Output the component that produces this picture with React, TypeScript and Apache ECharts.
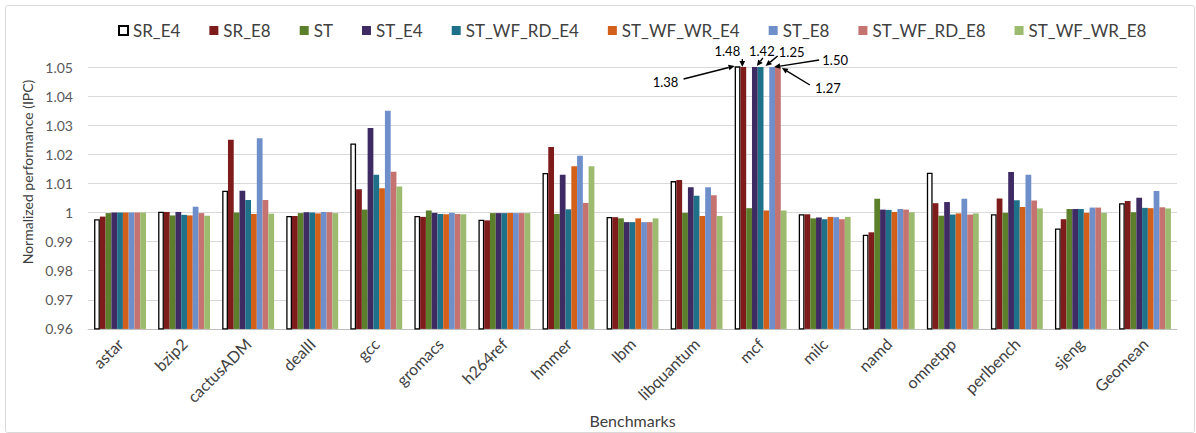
import React, { useEffect, useRef } from "react";
import * as echarts from "echarts";

const categories = ["astar", "bzip2", "cactusADM", "dealII", "gcc", "gromacs", "h264ref", "hmmer", "lbm", "libquantum", "mcf", "milc", "namd", "omnetpp", "perlbench", "sjeng", "Geomean"];

const SR_E4 = [0.9977, 1.0003, 1.0075, 0.9988, 1.0237, 0.9988, 0.9975, 1.0136, 0.9985, 1.0108, 1.38, 0.9994, 0.9924, 1.0137, 0.9994, 0.9945, 1.0032];
const SR_E8 = [0.9986, 1.0002, 1.025, 0.9988, 1.008, 0.9985, 0.9973, 1.0225, 0.9984, 1.0112, 1.48, 0.9994, 0.9932, 1.0032, 1.0048, 0.9977, 1.004];
const ST = [0.9998, 0.999, 1.0, 0.9998, 1.001, 1.0007, 0.9998, 0.9995, 0.998, 0.9999, 1.0015, 0.998, 1.0047, 0.9989, 0.9999, 1.0012, 1.0001];
const ST_E4 = [1.0, 1.0002, 1.0075, 1.0001, 1.029, 0.9999, 0.9998, 1.013, 0.9967, 1.0087, 1.42, 0.9983, 1.001, 1.0036, 1.0139, 1.0012, 1.0051];
const ST_WF_RD_E4 = [1.0, 0.9992, 1.0043, 1.0, 1.013, 0.9995, 0.9998, 1.0011, 0.9967, 1.0058, 1.25, 0.9977, 1.0009, 0.9993, 1.0042, 1.0012, 1.0016];
const ST_WF_WR_E4 = [1.0, 0.999, 0.9995, 0.9997, 1.0083, 0.9994, 0.9998, 1.0159, 0.998, 0.9988, 1.0007, 0.9985, 1.0002, 0.9997, 1.0019, 0.9999, 1.0015];
const ST_E8 = [1.0, 1.002, 1.0255, 1.0002, 1.035, 0.9999, 0.9998, 1.0195, 0.9967, 1.0087, 1.5, 0.9984, 1.0012, 1.0047, 1.013, 1.0017, 1.0074];
const ST_WF_RD_E8 = [1.0, 0.9998, 1.0043, 1.0001, 1.014, 0.9995, 0.9998, 1.0033, 0.9967, 1.0059, 1.27, 0.9977, 1.001, 0.9993, 1.0041, 1.0017, 1.0018];
const ST_WF_WR_E8 = [1.0, 0.9989, 0.9996, 0.9998, 1.0089, 0.9994, 0.9998, 1.0159, 0.998, 0.9988, 1.0007, 0.9985, 1.0001, 0.9997, 1.0014, 0.9999, 1.0014];

const seriesDefs = [
  { name: "SR_E4", data: SR_E4, color: "#ffffff", border: "#000000" },
  { name: "SR_E8", data: SR_E8, color: "#7e1c1c" },
  { name: "ST", data: ST, color: "#5b7f2b" },
  { name: "ST_E4", data: ST_E4, color: "#3f2b64" },
  { name: "ST_WF_RD_E4", data: ST_WF_RD_E4, color: "#1f7089" },
  { name: "ST_WF_WR_E4", data: ST_WF_WR_E4, color: "#d2601a" },
  { name: "ST_E8", data: ST_E8, color: "#6f8fcb" },
  { name: "ST_WF_RD_E8", data: ST_WF_RD_E8, color: "#c47370" },
  { name: "ST_WF_WR_E8", data: ST_WF_WR_E8, color: "#9dbb6f" },
];

// annotations on the clipped mcf bars: offsets (px) relative to bar top-center
const annotations = [
  { series: 0, tx: -72, ty: 15, sx: -54, sy: 12, ex: -3, ey: -1 },
  { series: 1, tx: -16, ty: -16, sx: -1, sy: -8, ex: -1, ey: 0 },
  { series: 3, tx: 7, ty: -16, sx: 8, sy: -9, ex: 2, ey: -1 },
  { series: 4, tx: 31, ty: -15, sx: 17, sy: -11, ex: 5, ey: -1 },
  { series: 6, tx: 63, ty: -7, sx: 47, sy: -7, ex: 2, ey: 0 },
  { series: 7, tx: 50, ty: 21, sx: 32, sy: 18, ex: 4, ey: 1 },
];
const annotCategory = "mcf";

const GRID = { left: 88, right: 19, top: 67, bottom: 104 };
const CAT_GAP = 0.19;

export default function App() {
  const ref = useRef<HTMLDivElement>(null);
  useEffect(() => {
    if (!ref.current) return;
    const chart = echarts.init(ref.current, null, { renderer: "svg" });
    const font = "Lato, 'Liberation Sans', sans-serif";
    chart.setOption({
      animation: false,
      textStyle: { fontFamily: font },
      legend: {
        top: 17,
        left: 113,
        itemWidth: 9,
        itemHeight: 9,
        itemGap: 29,
        icon: "rect",
        textStyle: { fontSize: 17, color: "#404040", fontFamily: font },
        data: seriesDefs.map((s) => s.name),
      },
      grid: GRID,
      xAxis: {
        type: "category",
        data: categories,
        axisLine: { lineStyle: { color: "#bfbfbf", width: 1 } },
        axisTick: { show: false },
        axisLabel: { rotate: 45, fontSize: 16, color: "#404040", margin: 12, interval: 0, fontFamily: font },
        name: "Benchmarks",
        nameLocation: "middle",
        nameGap: 70,
        nameTextStyle: { fontSize: 16, color: "#404040", fontFamily: font },
      },
      yAxis: {
        type: "value",
        min: 0.96,
        max: 1.05,
        interval: 0.01,
        axisLine: { show: false },
        axisTick: { show: false },
        splitLine: { lineStyle: { color: "#d9d9d9" } },
        axisLabel: {
          fontSize: 14,
          color: "#595959",
          margin: 15,
          fontFamily: font,
          formatter: (v: number) => String(Number(v.toFixed(2))),
        },
      },
      series: seriesDefs.map((s) => ({
        name: s.name,
        type: "bar",
        data: s.data,
        clip: true,
        barGap: "0%",
        barCategoryGap: CAT_GAP * 100 + "%",
        itemStyle: s.border
          ? { color: s.color, borderColor: s.border, borderWidth: 1.3 }
          : { color: s.color },
      })),
    });

    // compute annotation positions through the axes
    const width = chart.getWidth();
    const gridW = width - GRID.left - GRID.right;
    const catW = gridW / categories.length;
    const groupW = catW * (1 - CAT_GAP);
    const barW = groupW / seriesDefs.length;
    const cx = chart.convertToPixel({ xAxisIndex: 0 }, annotCategory) as number;
    const topY = chart.convertToPixel({ yAxisIndex: 0 }, 1.05) as number;
    const graphics: any[] = [
      {
        type: "rect",
        left: 3,
        top: 3,
        shape: { width: 1189, height: 427, r: 2 },
        style: { fill: "none", stroke: "#d9d9d9", lineWidth: 1 },
        silent: true,
      },
      {
        type: "text",
        x: 27,
        y: 172,
        rotation: Math.PI / 2,
        style: {
          text: "Normalized performance (IPC)",
          fontSize: 14,
          fontFamily: font,
          fill: "#404040",
          align: "center",
          verticalAlign: "middle",
        },
      },
    ];
    annotations.forEach((a) => {
      const bx = cx - groupW / 2 + barW * (a.series + 0.5);
      const val = seriesDefs[a.series].data[categories.indexOf(annotCategory)];
      const x1 = bx + a.sx, y1 = topY + a.sy, x2 = bx + a.ex, y2 = topY + a.ey;
      const dx = x2 - x1, dy = y2 - y1;
      const len = Math.sqrt(dx * dx + dy * dy) || 1;
      const ux = dx / len, uy = dy / len;
      const hl = Math.min(6, len), hw = 2.8;
      const bxh = x2 - ux * hl, byh = y2 - uy * hl;
      graphics.push({
        type: "line",
        shape: { x1, y1, x2: bxh, y2: byh },
        style: { stroke: "#000", lineWidth: 1.4 },
        z: 100,
      });
      graphics.push({
        type: "polygon",
        shape: {
          points: [
            [x2, y2],
            [bxh - uy * hw, byh + ux * hw],
            [bxh + uy * hw, byh - ux * hw],
          ],
        },
        style: { fill: "#000" },
        z: 100,
      });
      graphics.push({
        type: "text",
        x: bx + a.tx,
        y: topY + a.ty,
        style: {
          text: val.toFixed(2),
          fontSize: 13,
          fontFamily: font,
          fill: "#000",
          align: "center",
          verticalAlign: "middle",
        },
        z: 100,
      });
    });
    chart.setOption({ graphic: graphics });
    return () => chart.dispose();
  }, []);
  return (
    <div
      ref={ref}
      style={{ position: "fixed", left: 0, top: 0, width: 1196, height: 433, background: "#fff" }}
    />
  );
}
